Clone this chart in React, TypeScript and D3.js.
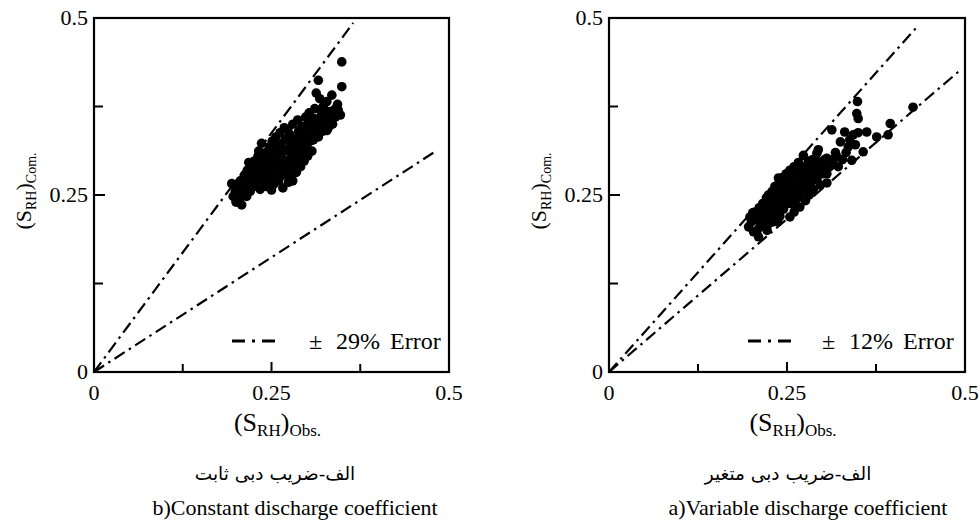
import React from 'react';
import * as d3 from 'd3';

type Pt = [number, number];

// axis ticks (same on both axes of both panels)
const tickValues = [0.125, 0.25, 0.375];
const tickLabels = [
    { v: 0, label: '0' },
    { v: 0.25, label: '0.25' },
    { v: 0.5, label: '0.5' },
];

// b) constant discharge coefficient: [obs, com]
const constantPoints: Pt[] = [
    [0.194, 0.266], [0.196, 0.248], [0.199, 0.255], [0.203, 0.262], [0.205, 0.244], [0.208, 0.236],
    [0.206, 0.27], [0.21, 0.252], [0.212, 0.278], [0.214, 0.26], [0.216, 0.285], [0.218, 0.268],
    [0.22, 0.255], [0.221, 0.292], [0.223, 0.275], [0.225, 0.262], [0.226, 0.298], [0.228, 0.283],
    [0.23, 0.27], [0.231, 0.305], [0.233, 0.29], [0.235, 0.276], [0.236, 0.323], [0.238, 0.3],
    [0.239, 0.285], [0.24, 0.268], [0.242, 0.31], [0.243, 0.262], [0.244, 0.295], [0.245, 0.278],
    [0.247, 0.318], [0.248, 0.302], [0.249, 0.287], [0.25, 0.272], [0.25, 0.257], [0.251, 0.326],
    [0.252, 0.31], [0.253, 0.295], [0.254, 0.281], [0.256, 0.332], [0.257, 0.317], [0.258, 0.3],
    [0.259, 0.286], [0.26, 0.27], [0.262, 0.338], [0.263, 0.322], [0.264, 0.307], [0.265, 0.292],
    [0.266, 0.278], [0.268, 0.345], [0.269, 0.328], [0.27, 0.313], [0.271, 0.297], [0.272, 0.283],
    [0.273, 0.342], [0.274, 0.268], [0.276, 0.276], [0.276, 0.335], [0.277, 0.32], [0.278, 0.305],
    [0.279, 0.29], [0.28, 0.35], [0.282, 0.328], [0.283, 0.312], [0.284, 0.296], [0.285, 0.282],
    [0.287, 0.356], [0.288, 0.34], [0.289, 0.322], [0.29, 0.305], [0.291, 0.29], [0.293, 0.347],
    [0.294, 0.33], [0.295, 0.314], [0.296, 0.298], [0.298, 0.36], [0.299, 0.338], [0.3, 0.32],
    [0.301, 0.305], [0.302, 0.352], [0.303, 0.366], [0.305, 0.343], [0.306, 0.327], [0.307, 0.312],
    [0.309, 0.328], [0.31, 0.358], [0.311, 0.372], [0.312, 0.34], [0.313, 0.394], [0.314, 0.355],
    [0.316, 0.412], [0.316, 0.332], [0.318, 0.386], [0.318, 0.348], [0.32, 0.362], [0.322, 0.34],
    [0.323, 0.375], [0.325, 0.352], [0.326, 0.367], [0.328, 0.382], [0.328, 0.341], [0.33, 0.356],
    [0.332, 0.368], [0.335, 0.391], [0.336, 0.35], [0.339, 0.371], [0.34, 0.36], [0.343, 0.378],
    [0.347, 0.363], [0.349, 0.403], [0.349, 0.438],
    [0.2, 0.24], [0.215, 0.248], [0.222, 0.283], [0.227, 0.268], [0.232, 0.312], [0.237, 0.292],
    [0.241, 0.276], [0.246, 0.305], [0.253, 0.265], [0.255, 0.322], [0.261, 0.3], [0.267, 0.315],
    [0.268, 0.288], [0.272, 0.33], [0.275, 0.3], [0.281, 0.316], [0.286, 0.33], [0.292, 0.31],
    [0.297, 0.345], [0.304, 0.33], [0.308, 0.345], [0.315, 0.34], [0.319, 0.37], [0.324, 0.36],
    [0.33, 0.345], [0.337, 0.362], [0.344, 0.37], [0.266, 0.26], [0.28, 0.27], [0.256, 0.29],
    [0.234, 0.258], [0.218, 0.296],
];

// a) variable discharge coefficient: [obs, com]
const variablePoints: Pt[] = [
    [0.196, 0.205], [0.198, 0.219], [0.2, 0.212], [0.203, 0.198], [0.205, 0.226], [0.207, 0.215],
    [0.21, 0.191], [0.211, 0.232], [0.212, 0.205], [0.214, 0.222], [0.216, 0.238], [0.218, 0.21],
    [0.22, 0.228], [0.221, 0.246], [0.222, 0.2], [0.224, 0.25], [0.224, 0.218], [0.226, 0.235],
    [0.228, 0.225], [0.229, 0.255], [0.23, 0.212], [0.232, 0.242], [0.233, 0.262], [0.234, 0.23],
    [0.236, 0.25], [0.238, 0.233], [0.239, 0.268], [0.24, 0.22], [0.24, 0.256], [0.242, 0.242],
    [0.244, 0.275], [0.245, 0.23], [0.246, 0.262], [0.247, 0.248], [0.249, 0.28], [0.25, 0.238],
    [0.251, 0.266], [0.252, 0.255], [0.254, 0.219], [0.254, 0.285], [0.256, 0.245], [0.257, 0.272],
    [0.258, 0.26], [0.26, 0.29], [0.261, 0.235], [0.262, 0.252], [0.263, 0.278], [0.265, 0.265],
    [0.266, 0.296], [0.268, 0.233], [0.268, 0.248], [0.27, 0.284], [0.271, 0.27], [0.273, 0.306],
    [0.273, 0.256], [0.275, 0.29], [0.276, 0.242], [0.277, 0.275], [0.278, 0.262], [0.28, 0.298],
    [0.281, 0.25], [0.283, 0.282], [0.284, 0.268], [0.286, 0.3], [0.287, 0.258], [0.289, 0.288],
    [0.292, 0.309], [0.292, 0.272], [0.294, 0.314], [0.295, 0.29], [0.297, 0.264], [0.299, 0.297],
    [0.3, 0.28], [0.303, 0.3], [0.306, 0.302], [0.306, 0.28], [0.306, 0.267], [0.31, 0.29],
    [0.313, 0.342], [0.315, 0.3], [0.32, 0.304], [0.322, 0.29], [0.325, 0.325], [0.331, 0.339],
    [0.333, 0.31], [0.338, 0.328], [0.341, 0.299], [0.346, 0.321], [0.348, 0.365], [0.349, 0.382],
    [0.35, 0.358], [0.35, 0.338], [0.357, 0.311], [0.362, 0.339], [0.376, 0.332], [0.392, 0.335],
    [0.395, 0.351], [0.427, 0.374],
    [0.202, 0.225], [0.208, 0.2], [0.215, 0.213], [0.219, 0.234], [0.223, 0.208], [0.227, 0.244],
    [0.231, 0.22], [0.235, 0.26], [0.237, 0.212], [0.241, 0.232], [0.243, 0.265], [0.248, 0.27],
    [0.253, 0.238], [0.255, 0.262], [0.259, 0.276], [0.264, 0.245], [0.267, 0.285], [0.269, 0.258],
    [0.274, 0.28], [0.279, 0.285], [0.282, 0.262], [0.285, 0.29], [0.288, 0.275], [0.29, 0.3],
    [0.296, 0.28], [0.301, 0.29], [0.26, 0.226], [0.238, 0.274], [0.318, 0.31], [0.328, 0.3],
    [0.336, 0.318], [0.343, 0.335],
];

// error bound lines (start, end)
const constantUpper: Pt[] = [[0, 0], [0.365, 0.493]];
const constantLower: Pt[] = [[0, 0], [0.48, 0.311]];
const variableUpper: Pt[] = [[0, 0], [0.434, 0.489]];
const variableLower: Pt[] = [[0, 0], [0.494, 0.427]];

const FONT = "'Liberation Serif', 'Times New Roman', serif";

type PanelProps = {
    left: number;
    size: number;
    points: Pt[];
    upper: Pt[];
    lower: Pt[];
    errorText: string;
    legend: { line: number; pm: number; pct: number; err: number };
    persian: string;
    persianX: number;
    english: string;
    englishX: number;
};

const Panel: React.FC<PanelProps> = (p) => {
    const top = 18;
    const bottom = 372;
    const x = d3.scaleLinear().domain([0, 0.5]).range([p.left, p.left + p.size]);
    const y = d3.scaleLinear().domain([0, 0.5]).range([bottom, top]);
    const line = d3.line<Pt>().x(d => x(d[0])).y(d => y(d[1]));
    const legendY = 341;

    return (
        <g fontFamily={FONT} fill="#000">
            {/* bound lines */}
            {[p.upper, p.lower].map((l, i) => (
                <path key={i} d={line(l) || ''} fill="none" stroke="#000" strokeWidth={2.2} strokeDasharray="12,5,2.5,5" />
            ))}

            {/* points */}
            {p.points.map((d, i) => (
                <circle key={i} cx={x(d[0])} cy={y(d[1])} r={4.8} fill="#000" />
            ))}

            {/* frame */}
            <rect x={p.left} y={top} width={p.size} height={bottom - top} fill="none" stroke="#000" strokeWidth={2.2} />

            {/* ticks */}
            {tickValues.map(v => (
                <g key={v}>
                    <line x1={x(v)} x2={x(v)} y1={bottom} y2={bottom - (v === 0.25 ? 10 : 8)} stroke="#000" strokeWidth={2} />
                    <line x1={p.left} x2={p.left + (v === 0.25 ? 11 : 9)} y1={y(v)} y2={y(v)} stroke="#000" strokeWidth={2} />
                </g>
            ))}
            {tickLabels.map(t => (
                <g key={t.label} fontSize={22}>
                    <text x={x(t.v)} y={400} textAnchor="middle">{t.label}</text>
                    <text x={p.left - 6} y={y(t.v) + 7} textAnchor="end">{t.label}</text>
                </g>
            ))}

            {/* axis titles */}
            <text x={x(0.25) + 6} y={431} textAnchor="middle" fontSize={26}>
                <tspan>(S</tspan>
                <tspan fontSize={17} dy={5}>RH</tspan>
                <tspan dy={-5}>)</tspan>
                <tspan fontSize={17} dy={5}>Obs.</tspan>
            </text>
            <text transform={`translate(${p.left - 63},${y(0.25) - 4}) rotate(-90)`} textAnchor="middle" fontSize={22}>
                <tspan>(S</tspan>
                <tspan fontSize={14} dy={5}>RH</tspan>
                <tspan dy={-5}>)</tspan>
                <tspan fontSize={14} dy={5}>Com.</tspan>
            </text>

            {/* legend */}
            <line x1={p.left + p.legend.line} x2={p.left + p.legend.line + 43} y1={legendY} y2={legendY}
                  stroke="#000" strokeWidth={3} strokeDasharray="13,7,3,7" />
            <text y={legendY + 8} fontSize={24}>
                <tspan x={p.left + p.legend.pm}>±</tspan>
                <tspan x={p.left + p.legend.pct}>{p.errorText}</tspan>
                <tspan x={p.left + p.legend.err}>Error</tspan>
            </text>

            {/* captions */}
            <text x={p.persianX} y={480} textAnchor="middle" fontSize={18.5}
                  fontFamily="'DejaVu Sans', 'Noto Sans', sans-serif" direction="rtl">{p.persian}</text>
            <text x={p.englishX} y={515} textAnchor="middle" fontSize={22}>{p.english}</text>
        </g>
    );
};

const App: React.FC = () => (
    <svg width={979} height={525} style={{ position: 'absolute', left: 0, top: 0, background: '#fff' }}>
        <rect width={979} height={525} fill="#fff" />
        <Panel
            left={94} size={355}
            points={constantPoints} upper={constantUpper} lower={constantLower}
            errorText="29%" legend={{ line: 138, pm: 215, pct: 242, err: 296 }}
            persian="الف-ضریب دبی ثابت" persianX={275}
            english="b)Constant discharge coefficient" englishX={295}
        />
        <Panel
            left={609} size={356}
            points={variablePoints} upper={variableUpper} lower={variableLower}
            errorText="12%" legend={{ line: 139, pm: 213, pct: 240, err: 294 }}
            persian="الف-ضریب دبی متغیر" persianX={788}
            english="a)Variable discharge coefficient" englishX={808}
        />
    </svg>
);

export default App;
